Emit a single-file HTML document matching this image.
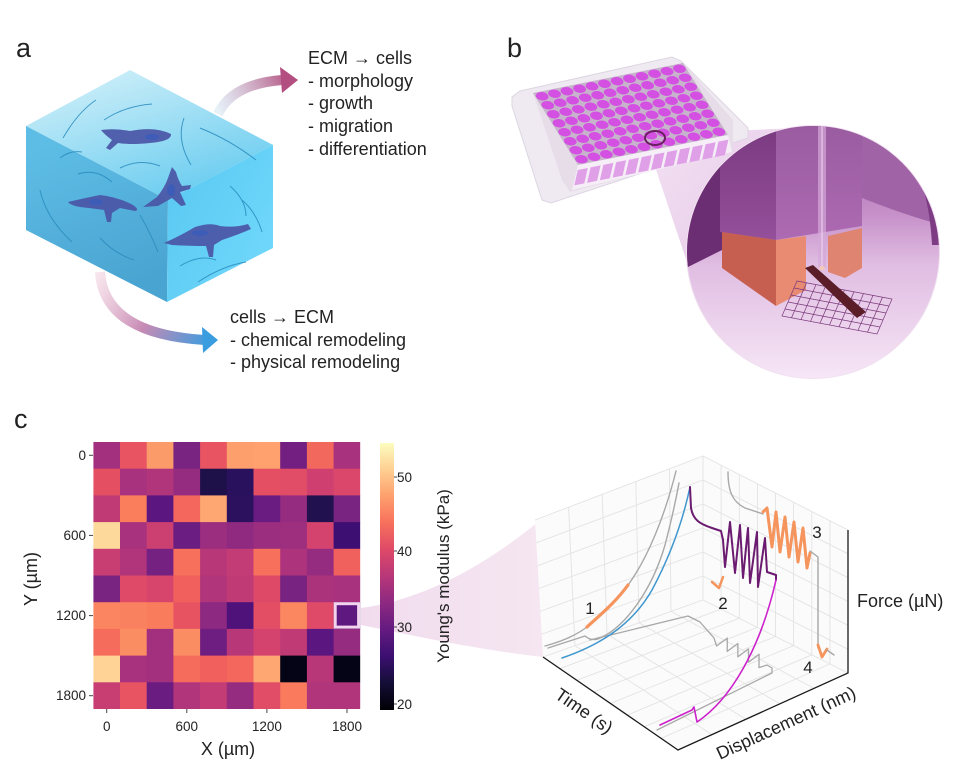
<!DOCTYPE html>
<html><head><meta charset="utf-8"><style>
html,body{margin:0;padding:0;background:#fff;}
svg{display:block;}
</style></head><body>
<svg width="974" height="784" viewBox="0 0 974 784" xmlns="http://www.w3.org/2000/svg" font-family="Liberation Sans, Arial, sans-serif" fill="#222">
<defs>
 <linearGradient id="topF" x1="130" y1="70" x2="168" y2="200" gradientUnits="userSpaceOnUse">
  <stop offset="0" stop-color="#c6ecf8"/><stop offset="1" stop-color="#6ccdf0"/></linearGradient>
 <linearGradient id="leftF" x1="60" y1="140" x2="120" y2="290" gradientUnits="userSpaceOnUse">
  <stop offset="0" stop-color="#5ebde5"/><stop offset="1" stop-color="#4aa4d1"/></linearGradient>
 <linearGradient id="rightF" x1="170" y1="200" x2="273" y2="250" gradientUnits="userSpaceOnUse">
  <stop offset="0" stop-color="#5ccaf3"/><stop offset="1" stop-color="#6fd7fa"/></linearGradient>
 <linearGradient id="arrU" x1="218" y1="112" x2="292" y2="80" gradientUnits="userSpaceOnUse">
  <stop offset="0" stop-color="#d6e8f4" stop-opacity="0.6"/><stop offset="1" stop-color="#b4507f"/></linearGradient>
 <linearGradient id="arrD" x1="100" y1="272" x2="212" y2="340" gradientUnits="userSpaceOnUse">
  <stop offset="0" stop-color="#f2d2de" stop-opacity="0.6"/><stop offset="0.5" stop-color="#c78ab4"/><stop offset="1" stop-color="#3a9de0"/></linearGradient>
 <linearGradient id="bg" x1="0" y1="126" x2="0" y2="378" gradientUnits="userSpaceOnUse">
  <stop offset="0" stop-color="#a46aa8"/><stop offset="0.35" stop-color="#c690c9"/><stop offset="0.55" stop-color="#e0bde2"/><stop offset="1" stop-color="#f6e6f6"/></linearGradient>
 <linearGradient id="cone" x1="650" y1="140" x2="760" y2="230" gradientUnits="userSpaceOnUse">
  <stop offset="0" stop-color="#f2e0f2"/><stop offset="1" stop-color="#e8cdea"/></linearGradient>
 <linearGradient id="blkL" x1="0" y1="126" x2="0" y2="240" gradientUnits="userSpaceOnUse">
  <stop offset="0" stop-color="#7a3a80"/><stop offset="1" stop-color="#94509a"/></linearGradient>
 <linearGradient id="blkR" x1="0" y1="126" x2="0" y2="240" gradientUnits="userSpaceOnUse">
  <stop offset="0" stop-color="#9a5ca0"/><stop offset="1" stop-color="#ad6ab2"/></linearGradient>
 <linearGradient id="magma" x1="0" y1="1" x2="0" y2="0">
  <stop offset="0" stop-color="#000004"/><stop offset="0.1" stop-color="#140e36"/><stop offset="0.2" stop-color="#3b0f70"/><stop offset="0.3" stop-color="#641a80"/><stop offset="0.4" stop-color="#8c2981"/><stop offset="0.5" stop-color="#b73779"/><stop offset="0.6" stop-color="#de4968"/><stop offset="0.7" stop-color="#f7705c"/><stop offset="0.8" stop-color="#fe9f6d"/><stop offset="0.9" stop-color="#fecf92"/><stop offset="1" stop-color="#fcfdbf"/></linearGradient>
 <linearGradient id="fun" x1="361" y1="0" x2="543" y2="0" gradientUnits="userSpaceOnUse">
  <stop offset="0" stop-color="#f1dcee"/><stop offset="1" stop-color="#f5e6f1"/></linearGradient>
 <clipPath id="bc"><circle cx="813" cy="252" r="126"/></clipPath>
 <g id="wrow">
  <ellipse cx="0.042" cy="0" rx="0.039" ry="0.056"/><ellipse cx="0.125" cy="0" rx="0.039" ry="0.056"/><ellipse cx="0.208" cy="0" rx="0.039" ry="0.056"/><ellipse cx="0.292" cy="0" rx="0.039" ry="0.056"/><ellipse cx="0.375" cy="0" rx="0.039" ry="0.056"/><ellipse cx="0.458" cy="0" rx="0.039" ry="0.056"/><ellipse cx="0.542" cy="0" rx="0.039" ry="0.056"/><ellipse cx="0.625" cy="0" rx="0.039" ry="0.056"/><ellipse cx="0.708" cy="0" rx="0.039" ry="0.056"/><ellipse cx="0.792" cy="0" rx="0.039" ry="0.056"/><ellipse cx="0.875" cy="0" rx="0.039" ry="0.056"/><ellipse cx="0.958" cy="0" rx="0.039" ry="0.056"/>
 </g>
</defs>

<!-- ============ Panel a ============ -->
<text x="16" y="57" font-size="27">a</text>
<polygon points="130,70 273,145 168,200 26,126" fill="url(#topF)"/>
<polygon points="26,126 168,200 167,302 26,230" fill="url(#leftF)"/>
<polygon points="168,200 273,145 273,248 167,302" fill="url(#rightF)"/>
<g fill="none" stroke="#2a8cbf" stroke-width="1" opacity="0.85">
 <path d="M63,138 Q78,112 96,100"/><path d="M104,120 Q125,106 152,104"/><path d="M184,118 Q176,140 191,165"/><path d="M200,128 Q230,140 256,160"/>
 <path d="M40,190 Q46,218 72,242"/><path d="M100,238 Q115,254 134,260"/><path d="M78,174 Q96,168 112,182"/><path d="M120,168 Q140,158 160,166"/>
 <path d="M180,266 Q200,254 216,260"/><path d="M230,186 Q246,200 246,216"/><path d="M198,282 Q222,266 246,262"/><path d="M242,200 Q256,212 262,232"/>
 <path d="M140,215 Q150,232 158,252"/><path d="M60,158 Q70,150 82,152"/>
</g>
<g fill="#4b56a6" opacity="0.92">
 <path d="M101,130 Q115,128 130,131 Q155,126 171,134 Q172,141 150,143 Q130,145 118,143 L110,150 L106,148 L112,140 Q105,135 101,130 Z"/>
 <path d="M172,167 L176,172 Q178,180 182,186 L191,185 L190,189 L180,192 L186,205 L181,206 L172,198 L158,206 L143,207 L157,197 Q165,187 168,178 Z"/>
 <path d="M68,202 Q85,198 100,195 Q118,197 133,205 Q140,210 135,211 L120,208 L112,213 L111,222 L107,222 L104,210 Q90,208 80,207 Q70,205 68,202 Z"/>
 <path d="M164,243 Q180,236 195,227 Q210,222 220,226 Q235,228 248,224 L251,229 Q240,234 222,240 L214,245 L213,257 L209,257 L206,246 Q190,246 172,245 Z"/>
</g>
<g fill="#3a5cbc" opacity="0.8">
 <ellipse cx="152" cy="137" rx="7" ry="3"/><ellipse cx="171" cy="190" rx="4" ry="6"/><ellipse cx="96" cy="202" rx="7" ry="3"/><ellipse cx="200" cy="233" rx="8" ry="3"/>
</g>
<path d="M218,114 Q232,84 282,80" fill="none" stroke="url(#arrU)" stroke-width="10"/>
<polygon points="280,67 298,80 282,93" fill="#b24f80"/>
<path d="M100,272 Q104,334 205,340" fill="none" stroke="url(#arrD)" stroke-width="10"/>
<polygon points="202,327 218,340 203,353" fill="#3a9de0"/>
<g font-size="18">
 <text x="308" y="64">ECM → cells</text>
 <text x="308" y="87">- morphology</text>
 <text x="308" y="109">- growth</text>
 <text x="308" y="132">- migration</text>
 <text x="308" y="155">- differentiation</text>
 <text x="230" y="323">cells → ECM</text>
 <text x="230" y="346">- chemical remodeling</text>
 <text x="230" y="368">- physical remodeling</text>
</g>

<!-- ============ Panel b ============ -->
<text x="507" y="57" font-size="27">b</text>
<polygon points="647,143 669,134 795,128 688,265" fill="url(#cone)"/>
<polygon points="512,97 520,91 672,57 681,61 748,128 748,138 551,203 542,200 512,106" fill="#efeaf2" stroke="#ddd5e2" stroke-width="1"/>
<polygon points="533,93 683,63 733,120 733,150 570,192 562,180" fill="#e7dde9"/>
<g transform="matrix(150,-30,45,72,533,93)">
 <rect x="0" y="0" width="1" height="1" fill="#c7b3cb"/>
 <g fill="#d350e2">
  <use href="#wrow" y="0.0625"/><use href="#wrow" y="0.1875"/><use href="#wrow" y="0.3125"/><use href="#wrow" y="0.4375"/><use href="#wrow" y="0.5625"/><use href="#wrow" y="0.6875"/><use href="#wrow" y="0.8125"/><use href="#wrow" y="0.9375"/>
 </g>
</g>
<polygon points="578,165 728,135 732,152 572,190" fill="#f5eef7"/>
<g transform="matrix(154,-31,-5,22,577,167)" fill="#e0a0e8">
 <rect x="0.01" y="0.15" width="0.065" height="0.7"/><rect x="0.093" y="0.15" width="0.065" height="0.7"/><rect x="0.176" y="0.15" width="0.065" height="0.7"/><rect x="0.259" y="0.15" width="0.065" height="0.7"/><rect x="0.342" y="0.15" width="0.065" height="0.7"/><rect x="0.425" y="0.15" width="0.065" height="0.7"/><rect x="0.508" y="0.15" width="0.065" height="0.7"/><rect x="0.591" y="0.15" width="0.065" height="0.7"/><rect x="0.674" y="0.15" width="0.065" height="0.7"/><rect x="0.757" y="0.15" width="0.065" height="0.7"/><rect x="0.84" y="0.15" width="0.065" height="0.7"/><rect x="0.923" y="0.15" width="0.065" height="0.7"/>
</g>
<ellipse cx="655" cy="138" rx="10" ry="7" fill="none" stroke="#6a1f5e" stroke-width="2"/>
<circle cx="813" cy="252" r="127" fill="#f0e0f0"/>
<g clip-path="url(#bc)">
 <rect x="686" y="125" width="256" height="256" fill="url(#bg)"/>
 <path d="M686,125 L722,125 L722,250 L686,268 Z" fill="#6c2e72"/>
 <path d="M862,125 L942,125 L942,225 Q905,215 862,198 Z" fill="#a064a6"/>
 <path d="M895,140 Q928,170 932,245 L942,245 L942,125 Z" fill="#7e3c84"/>
 <polygon points="720,125 776,125 776,240 720,232" fill="url(#blkL)"/>
 <polygon points="776,125 862,125 862,226 776,240" fill="url(#blkR)"/>
 <rect x="818" y="125" width="8" height="143" fill="#d4a8d8" opacity="0.7"/>
 <line x1="822" y1="125" x2="822" y2="268" stroke="#eed8f0" stroke-width="1"/>
 <polygon points="722,232 776,240 776,306 722,268" fill="#c75f50"/>
 <polygon points="776,240 806,236 806,290 776,306" fill="#e98a73"/>
 <polygon points="828,236 862,228 862,268 845,278 828,272" fill="#e08472"/>
 <ellipse cx="822" cy="268" rx="3" ry="2" fill="#f4c8b8"/>
 <g transform="matrix(95,18,-15,35,797,281)" fill="none" stroke="#7a3a7a" stroke-width="0.7" vector-effect="non-scaling-stroke">
  <rect x="0" y="0" width="1" height="1" vector-effect="non-scaling-stroke"/>
  <path vector-effect="non-scaling-stroke" d="M0.1,0V1M0.2,0V1M0.3,0V1M0.4,0V1M0.5,0V1M0.6,0V1M0.7,0V1M0.8,0V1M0.9,0V1M0,0.2H1M0,0.4H1M0,0.6H1M0,0.8H1"/>
 </g>
 <polygon points="805,268 813,265 866,312 857,318" fill="#5b1e28"/>
</g>

<!-- ============ Panel c ============ -->
<text x="14" y="428" font-size="27">c</text>
<path d="M361,608 C420,600 480,570 543,518 L543,657 C480,650 420,637 361,625 Z" fill="url(#fun)"/>
<svg x="93.3" y="442" width="267" height="267" viewBox="0 0 10 10" preserveAspectRatio="none">
<g>
<rect x="0" y="0" width="1.02" height="1.02" fill="#a3307e"/><rect x="1" y="0" width="1.02" height="1.02" fill="#e95462"/><rect x="2" y="0" width="1.02" height="1.02" fill="#fb9b6a"/><rect x="3" y="0" width="1.02" height="1.02" fill="#7a2482"/><rect x="4" y="0" width="1.02" height="1.02" fill="#e95462"/><rect x="5" y="0" width="1.02" height="1.02" fill="#fd9f6c"/><rect x="6" y="0" width="1.02" height="1.02" fill="#fea16e"/><rect x="7" y="0" width="1.02" height="1.02" fill="#721f81"/><rect x="8" y="0" width="1.02" height="1.02" fill="#f3685c"/><rect x="9" y="0" width="1" height="1.02" fill="#a8327d"/>
<rect x="0" y="1" width="1.02" height="1.02" fill="#e44f62"/><rect x="1" y="1" width="1.02" height="1.02" fill="#a8327d"/><rect x="2" y="1" width="1.02" height="1.02" fill="#b1357b"/><rect x="3" y="1" width="1.02" height="1.02" fill="#952c80"/><rect x="4" y="1" width="1.02" height="1.02" fill="#1e1149"/><rect x="5" y="1" width="1.02" height="1.02" fill="#2a115e"/><rect x="6" y="1" width="1.02" height="1.02" fill="#e44f64"/><rect x="7" y="1" width="1.02" height="1.02" fill="#e14d66"/><rect x="8" y="1" width="1.02" height="1.02" fill="#cf4070"/><rect x="9" y="1" width="1" height="1.02" fill="#db476a"/>
<rect x="0" y="2" width="1.02" height="1.02" fill="#c03a76"/><rect x="1" y="2" width="1.02" height="1.02" fill="#fb7e5c"/><rect x="2" y="2" width="1.02" height="1.02" fill="#5c167f"/><rect x="3" y="2" width="1.02" height="1.02" fill="#f3675c"/><rect x="4" y="2" width="1.02" height="1.02" fill="#fea772"/><rect x="5" y="2" width="1.02" height="1.02" fill="#2c115f"/><rect x="6" y="2" width="1.02" height="1.02" fill="#6a1c81"/><rect x="7" y="2" width="1.02" height="1.02" fill="#952c80"/><rect x="8" y="2" width="1.02" height="1.02" fill="#21114e"/><rect x="9" y="2" width="1" height="1.02" fill="#7a2482"/>
<rect x="0" y="3" width="1.02" height="1.02" fill="#fdd99b"/><rect x="1" y="3" width="1.02" height="1.02" fill="#a8327d"/><rect x="2" y="3" width="1.02" height="1.02" fill="#cc3f71"/><rect x="3" y="3" width="1.02" height="1.02" fill="#6b1d81"/><rect x="4" y="3" width="1.02" height="1.02" fill="#9b2e7f"/><rect x="5" y="3" width="1.02" height="1.02" fill="#902a81"/><rect x="6" y="3" width="1.02" height="1.02" fill="#9b2e7f"/><rect x="7" y="3" width="1.02" height="1.02" fill="#9e2f7f"/><rect x="8" y="3" width="1.02" height="1.02" fill="#d3436e"/><rect x="9" y="3" width="1" height="1.02" fill="#3e0f72"/>
<rect x="0" y="4" width="1.02" height="1.02" fill="#c83e73"/><rect x="1" y="4" width="1.02" height="1.02" fill="#b1357b"/><rect x="2" y="4" width="1.02" height="1.02" fill="#752181"/><rect x="3" y="4" width="1.02" height="1.02" fill="#f7705c"/><rect x="4" y="4" width="1.02" height="1.02" fill="#b73779"/><rect x="5" y="4" width="1.02" height="1.02" fill="#c43c75"/><rect x="6" y="4" width="1.02" height="1.02" fill="#f7705c"/><rect x="7" y="4" width="1.02" height="1.02" fill="#ad347c"/><rect x="8" y="4" width="1.02" height="1.02" fill="#952c80"/><rect x="9" y="4" width="1" height="1.02" fill="#f0605d"/>
<rect x="0" y="5" width="1.02" height="1.02" fill="#7a2482"/><rect x="1" y="5" width="1.02" height="1.02" fill="#df4a68"/><rect x="2" y="5" width="1.02" height="1.02" fill="#d8456c"/><rect x="3" y="5" width="1.02" height="1.02" fill="#f1605d"/><rect x="4" y="5" width="1.02" height="1.02" fill="#b1357b"/><rect x="5" y="5" width="1.02" height="1.02" fill="#c03a76"/><rect x="6" y="5" width="1.02" height="1.02" fill="#de4968"/><rect x="7" y="5" width="1.02" height="1.02" fill="#782281"/><rect x="8" y="5" width="1.02" height="1.02" fill="#ab337c"/><rect x="9" y="5" width="1" height="1.02" fill="#a8327d"/>
<rect x="0" y="6" width="1.02" height="1.02" fill="#fa8560"/><rect x="1" y="6" width="1.02" height="1.02" fill="#fa815f"/><rect x="2" y="6" width="1.02" height="1.02" fill="#f97d5c"/><rect x="3" y="6" width="1.02" height="1.02" fill="#e85362"/><rect x="4" y="6" width="1.02" height="1.02" fill="#8d2981"/><rect x="5" y="6" width="1.02" height="1.02" fill="#4f127b"/><rect x="6" y="6" width="1.02" height="1.02" fill="#e34e65"/><rect x="7" y="6" width="1.02" height="1.02" fill="#fb8761"/><rect x="8" y="6" width="1.02" height="1.02" fill="#df4a68"/><rect x="9" y="6" width="1" height="1.02" fill="#5f187f"/>
<rect x="0" y="7" width="1.02" height="1.02" fill="#f56b5c"/><rect x="1" y="7" width="1.02" height="1.02" fill="#fb8d63"/><rect x="2" y="7" width="1.02" height="1.02" fill="#a3307e"/><rect x="3" y="7" width="1.02" height="1.02" fill="#fb8d63"/><rect x="4" y="7" width="1.02" height="1.02" fill="#6e1e81"/><rect x="5" y="7" width="1.02" height="1.02" fill="#b73779"/><rect x="6" y="7" width="1.02" height="1.02" fill="#d3436e"/><rect x="7" y="7" width="1.02" height="1.02" fill="#c03a76"/><rect x="8" y="7" width="1.02" height="1.02" fill="#5c167f"/><rect x="9" y="7" width="1" height="1.02" fill="#952c80"/>
<rect x="0" y="8" width="1.02" height="1.02" fill="#fed395"/><rect x="1" y="8" width="1.02" height="1.02" fill="#a8327d"/><rect x="2" y="8" width="1.02" height="1.02" fill="#a3307e"/><rect x="3" y="8" width="1.02" height="1.02" fill="#f56b5c"/><rect x="4" y="8" width="1.02" height="1.02" fill="#f1605d"/><rect x="5" y="8" width="1.02" height="1.02" fill="#f3675c"/><rect x="6" y="8" width="1.02" height="1.02" fill="#fea772"/><rect x="7" y="8" width="1.02" height="1.02" fill="#050416"/><rect x="8" y="8" width="1.02" height="1.02" fill="#b73779"/><rect x="9" y="8" width="1" height="1.02" fill="#050416"/>
<rect x="0" y="9" width="1.02" height="1" fill="#c83e73"/><rect x="1" y="9" width="1.02" height="1" fill="#e95462"/><rect x="2" y="9" width="1.02" height="1" fill="#6a1c81"/><rect x="3" y="9" width="1.02" height="1" fill="#b1357b"/><rect x="4" y="9" width="1.02" height="1" fill="#c43c75"/><rect x="5" y="9" width="1.02" height="1" fill="#952c80"/><rect x="6" y="9" width="1.02" height="1" fill="#e14d66"/><rect x="7" y="9" width="1.02" height="1" fill="#f97a5d"/><rect x="8" y="9" width="1.02" height="1" fill="#b1357b"/><rect x="9" y="9" width="1" height="1" fill="#b1357b"/>
</g>
</svg>
<rect x="335.2" y="603.7" width="23.4" height="23.4" fill="#5f187f" stroke="#f2d4ee" stroke-width="3"/>
<!-- heatmap ticks -->
<g stroke="#444" stroke-width="1">
 <line x1="89" y1="455.3" x2="93" y2="455.3"/><line x1="89" y1="535.4" x2="93" y2="535.4"/><line x1="89" y1="615.6" x2="93" y2="615.6"/><line x1="89" y1="695.7" x2="93" y2="695.7"/>
 <line x1="106.7" y1="709" x2="106.7" y2="713"/><line x1="186.8" y1="709" x2="186.8" y2="713"/><line x1="266.9" y1="709" x2="266.9" y2="713"/><line x1="347" y1="709" x2="347" y2="713"/>
</g>
<g font-size="13.5" text-anchor="end">
 <text x="86" y="460">0</text><text x="86" y="540">600</text><text x="86" y="620">1200</text><text x="86" y="700">1800</text>
</g>
<g font-size="13.5" text-anchor="middle">
 <text x="106.7" y="731">0</text><text x="186.8" y="731">600</text><text x="266.9" y="731">1200</text><text x="347" y="731">1800</text>
</g>
<text x="228" y="755" font-size="18" text-anchor="middle">X (µm)</text>
<text transform="translate(37,579) rotate(-90)" font-size="18" text-anchor="middle">Y (µm)</text>
<!-- colorbar -->
<rect x="380" y="443" width="14" height="267" fill="url(#magma)"/>
<g stroke="#444" stroke-width="1">
 <line x1="394" y1="477" x2="397" y2="477"/><line x1="394" y1="551" x2="397" y2="551"/><line x1="394" y1="627" x2="397" y2="627"/><line x1="394" y1="704" x2="397" y2="704"/>
</g>
<g font-size="13.5">
 <text x="397" y="482">50</text><text x="397" y="556">40</text><text x="397" y="632">30</text><text x="397" y="709">20</text>
</g>
<text transform="translate(449,576) rotate(-90)" font-size="17" text-anchor="middle">Young's modulus (kPa)</text>

<!-- ============ 3D plot ============ -->
<polygon points="535,520 703,456 703,600 543,657" fill="#fbfbfb"/>
<polygon points="703,456 848,530 848,673 703,600" fill="#fbfbfb"/>
<polygon points="543,657 703,600 848,673 678,750" fill="#fbfbfb"/>
<g stroke="#e3e3e3" stroke-width="0.9" fill="none">
 <path d="M535,520 L703,456 L703,600 M703,456 L848,530"/>
 <path d="M568.6,507.2 L575,645.6 M602.2,494.4 L607,634.2 M635.8,481.6 L639,622.8 M669.4,468.8 L671,611.4"/>
 <path d="M536.3,542.8 L703,480 M537.7,565.7 L703,504 M539,588.5 L703,528 M540.3,611.3 L703,552 M541.7,634.2 L703,576"/>
 <path d="M721.1,465.3 L721.1,609.1 M739.3,474.5 L739.3,618.3 M757.4,483.8 L757.4,627.4 M775.5,493 L775.5,636.5 M793.6,502.3 L793.6,645.6 M811.8,511.5 L811.8,654.8 M829.9,520.8 L829.9,663.9"/>
 <path d="M703,480 L848,553.8 M703,504 L848,577.7 M703,528 L848,601.5 M703,552 L848,625.3 M703,576 L848,649.2"/>
 <path d="M559.9,668.6 L721.1,609.1 M576.8,680.3 L739.3,618.3 M593.6,691.9 L757.4,627.4 M610.5,703.5 L775.5,636.5 M627.4,715.1 L793.6,645.6 M644.3,726.8 L811.8,654.8 M661.1,738.4 L829.9,663.9"/>
 <path d="M575,645.6 L712,734.6 M607,634.2 L746,719.2 M639,622.8 L780,703.8 M671,611.4 L814,688.4"/>
 <path d="M543,657 L703,600 L848,673"/>
</g>
<g stroke="#1a1a1a" stroke-width="1.3" fill="none">
 <path d="M543,657 L678,750 L848,673 L848,530"/>
</g>
<!-- curves -->
<g fill="none" stroke-linejoin="round" stroke-linecap="round">
 <path d="M590,640 L688,616 L700,622 L714,638 L716.6,646 L727.3,638.1 L727.2,651.4 L737.9,643.5 L737.8,656.8 L748.5,648.9 L748.4,662.2 L759.1,654.3 L759,667.6 L767,665 L772,668 L772,673 L657,730" stroke="#a8a8a8" stroke-width="1.3"/>
 <path d="M545,646 C560,642 575,636 587,627" stroke="#a8a8a8" stroke-width="1.4"/>
 <path d="M628,585 C648,558 665,515 676,471" stroke="#a8a8a8" stroke-width="1.4"/>
 <path d="M548,648 L585,636 Q591,641 598,639 C625,628 652,590 665,545 C671,522 675,505 679,483" stroke="#a8a8a8" stroke-width="1.4"/>
 <path d="M587,627 C600,615 615,603 628,585" stroke="#f5945c" stroke-width="3.2"/>
 <path d="M562,658 C600,645 632,625 652,590 C668,560 682,525 690,487" stroke="#3f97cf" stroke-width="1.5"/>
 <path d="M690,487 L691,508 C693,520 700,524 712,528 L721,531 L723,540 L725,567 L730,522 L735,573 L740,525 L743,578 L748,528 L750,583 L757,532 L758,587 L765,538 L767,572 L776,575 L776,580" stroke="#6b1b70" stroke-width="2"/>
 <path d="M660,725 L692,710 L694,707 L697,722 C730,700 760,650 776,580" stroke="#cc22cc" stroke-width="1.6"/>
 <path d="M712,582 L719,588 L723,577" stroke="#f5945c" stroke-width="2.5"/>
 <path d="M728,472 C728,492 733,502 745,508 L763,514" stroke="#a8a8a8" stroke-width="1.4"/>
 <path d="M763,512 L767,508 L772,547 L776,512 L780,552 L785,517 L789,557 L794,522 L798,562 L803,528 L807,568 L810,553" stroke="#f5945c" stroke-width="3"/>
 <path d="M810,551 L818,557 L818,648" stroke="#a8a8a8" stroke-width="1.4"/>
 <path d="M818,645 L822,657 L827,649" stroke="#f5945c" stroke-width="2.8"/>
 <path d="M827,650 L834,655" stroke="#a8a8a8" stroke-width="1.4"/>
</g>
<g font-size="17" text-anchor="middle">
 <text x="590" y="614">1</text><text x="723" y="609">2</text><text x="817" y="538">3</text><text x="808" y="673">4</text>
</g>
<text x="857" y="607" font-size="18">Force (µN)</text>
<text transform="translate(584,711) rotate(34.6)" font-size="18" text-anchor="middle" dominant-baseline="central">Time (s)</text>
<text transform="translate(786,723) rotate(-24.6)" font-size="18" text-anchor="middle" dominant-baseline="central">Displacement (nm)</text>
</svg>
</body></html>
